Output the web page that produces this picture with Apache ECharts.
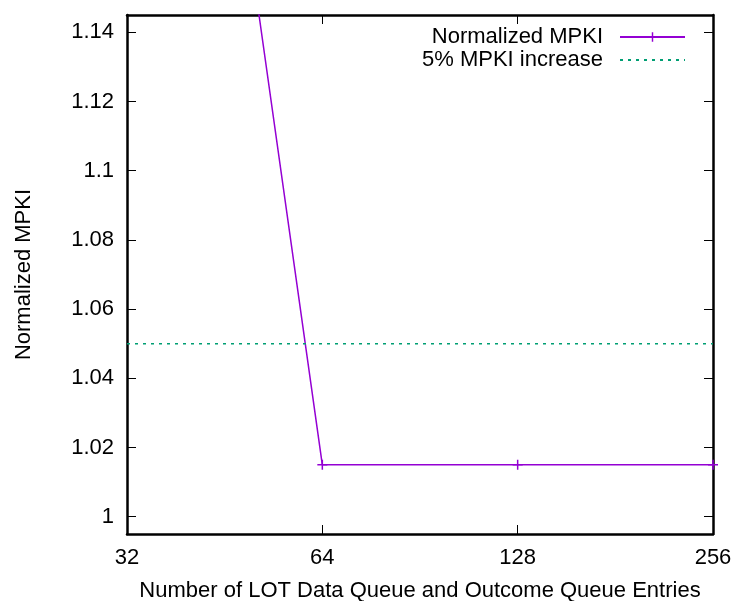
<!DOCTYPE html>
<html>
<head>
<meta charset="utf-8">
<script src="https://cdn.jsdelivr.net/npm/echarts@6/dist/echarts.min.js"></script>
<style>html,body{margin:0;padding:0;background:#fff}#c{width:735px;height:601px}</style>
</head>
<body>
<div id="c"></div>
<script>
var xValues = [32, 64, 128, 256];
var mpkiValues = [1.416, 1.015, 1.015, 1.015];
var thresholdX = [32, 256];
var thresholdY = [1.05, 1.05];
var yTickValues = [1, 1.02, 1.04, 1.06, 1.08, 1.1, 1.12, 1.14];
var seriesNames = ['Normalized MPKI', '5% MPKI increase'];
var xAxisName = 'Number of LOT Data Queue and Outcome Queue Entries';
var yAxisName = 'Normalized MPKI';

var FONT = "'Liberation Sans', Arial, sans-serif";
var chart = echarts.init(document.getElementById('c'), null, {renderer: 'canvas'});
var plus = 'path://M0,4.25H10V5.75H0Z M4.25,0H5.75V10H4.25Z';

function lineAxisX(pos, show) {
  return {
    type: 'log', logBase: 2, min: 32, max: 256, position: pos,
    name: show ? xAxisName : '', nameLocation: 'middle', nameGap: 46,
    nameTextStyle: {color: '#000', fontSize: 22, fontFamily: FONT},
    axisLine: {show: true, lineStyle: {color: '#000', width: 2.5}},
    axisTick: {show: true, inside: true, length: 9, lineStyle: {color: '#000', width: 1}},
    axisLabel: {show: show, color: '#000', fontSize: 22, fontFamily: FONT, margin: 13,
      showMinLabel: true, showMaxLabel: true, formatter: function (v) { return String(Math.round(v)); }},
    splitLine: {show: false}, minorTick: {show: false}
  };
}
function lineAxisY(pos, show) {
  return {
    type: 'value', min: 0.995, max: 1.145, position: pos,
    name: show ? yAxisName : '', nameLocation: 'middle', nameGap: 92,
    nameTextStyle: {color: '#000', fontSize: 22, fontFamily: FONT},
    axisLine: {show: true, lineStyle: {color: '#000', width: 2.5}},
    axisTick: {show: true, inside: true, length: 9, customValues: yTickValues, lineStyle: {color: '#000', width: 1}},
    axisLabel: {show: show, color: '#000', fontSize: 22, fontFamily: FONT, margin: 13, customValues: yTickValues,
      formatter: function (v) { return String(Number(v.toFixed(2))); }},
    splitLine: {show: false}
  };
}

var option = {
  animation: false,
  backgroundColor: '#fff',
  grid: {left: 127, right: 22, top: 15, bottom: 67, containLabel: false, outerBoundsMode: 'none'},
  legend: {
    orient: 'vertical', right: 44, top: 21, align: 'right',
    itemWidth: 65, itemHeight: 12, itemGap: 1,
    textStyle: {color: '#000', fontSize: 22, fontFamily: FONT, padding: [0, 12, 0, 0]},
    data: [{name: seriesNames[0]}, {name: seriesNames[1], itemStyle: {color: 'transparent', borderColor: 'transparent', borderWidth: 0}}]
  },
  xAxis: [lineAxisX('bottom', true), lineAxisX('top', false)],
  yAxis: [lineAxisY('left', true), lineAxisY('right', false)],
  series: [
    {
      name: seriesNames[0], type: 'line', xAxisIndex: 0, yAxisIndex: 0,
      data: xValues.map(function (x, i) { return [x, mpkiValues[i]]; }),
      symbol: plus, symbolSize: 10, showAllSymbol: true, clip: true,
      lineStyle: {color: '#9400d3', width: 1.5},
      itemStyle: {color: '#9400d3'}
    },
    {
      name: seriesNames[1], type: 'line', xAxisIndex: 0, yAxisIndex: 0,
      data: thresholdX.map(function (x, i) { return [x, thresholdY[i]]; }),
      symbol: 'none', clip: true,
      lineStyle: {color: '#009e73', width: 1.5, type: [3, 5]},
      itemStyle: {color: '#009e73'}
    }
  ]
};
chart.setOption(option);
</script>
</body>
</html>
